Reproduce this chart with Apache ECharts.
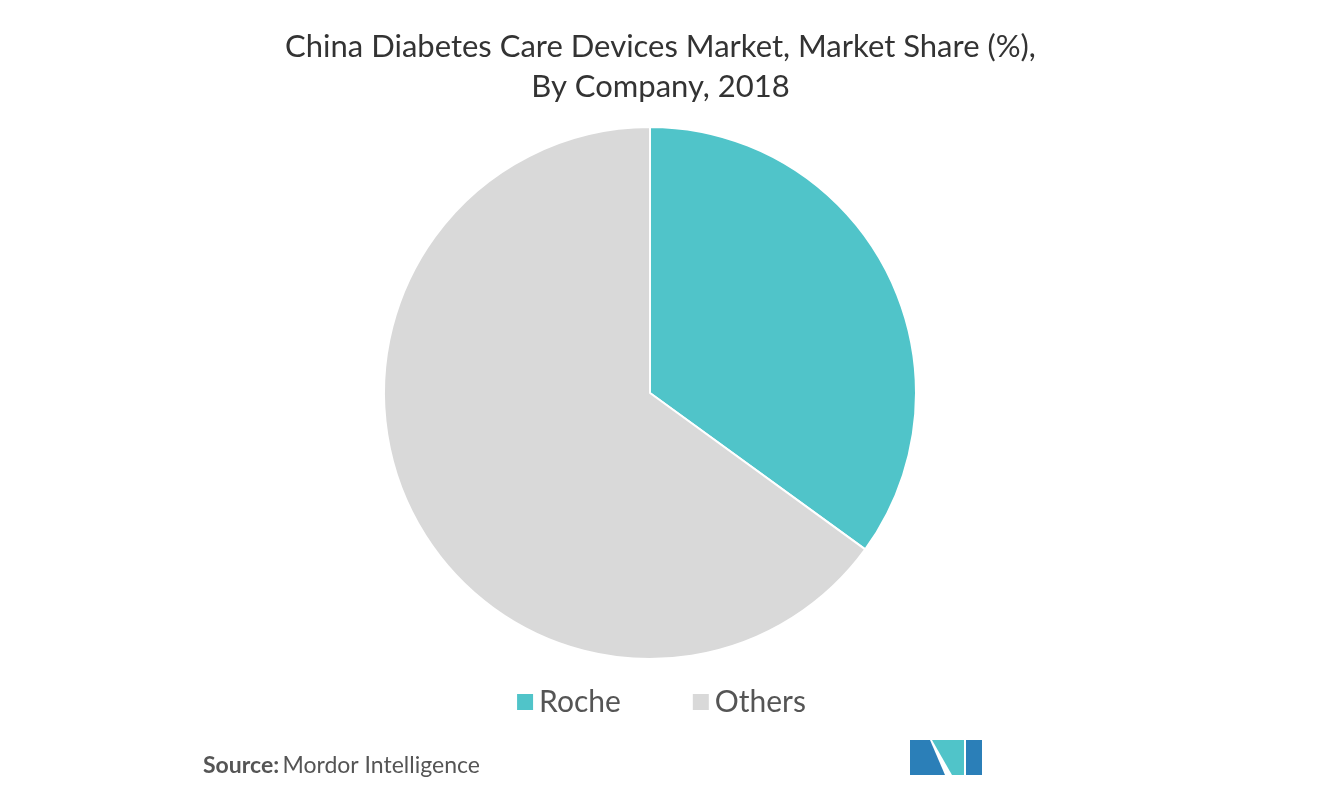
<!DOCTYPE html>
<html><head><meta charset="utf-8">
<script src="https://cdn.jsdelivr.net/npm/echarts@6/dist/echarts.min.js"></script>
<style>html,body{margin:0;padding:0;background:#fff}#c{width:1321px;height:802px}</style>
</head><body><div id="c"></div>
<script>
const categories = ["Roche", "Others"];
const shares = [35, 65];
const colors = ["#50C4C9", "#D9D9D9"];
const chart = echarts.init(document.getElementById('c'));
chart.setOption({
  animation: false,
  title: {
    text: "China Diabetes Care Devices Market, Market Share (%),\nBy Company, 2018",
    left: 'center', top: 22,
    textStyle: {fontFamily: 'Lato', fontWeight: 'normal', fontSize: 31, color: '#333', lineHeight: 40}
  },
  legend: {
    data: categories, bottom: 80, left: 'center', itemWidth: 18, itemHeight: 18, itemGap: 70,
    icon: 'rect',
    textStyle: {fontFamily: 'Lato', fontSize: 30, color: '#555'}
  },
  graphic: [
    {type: 'text', left: 203, top: 754, style: {rich: {b: {fontWeight: 'bold', fontFamily: 'Lato', fontSize: 23, fill: '#555'}, n: {fontFamily: 'Lato', fontSize: 23, fill: '#555'}}, text: '{b|Source:} {n|Mordor Intelligence}'}},
    {type: 'polygon', shape: {points: [[910,775],[910,740],[930,740],[945,775]]}, style: {fill: '#2B7FB8'}},
    {type: 'polygon', shape: {points: [[932,740],[952,775],[964,775],[964,740]]}, style: {fill: '#50C4C9'}},
    {type: 'polygon', shape: {points: [[966,775],[966,740],[982,740],[982,775]]}, style: {fill: '#2B7FB8'}}
  ],
  series: [{
    type: 'pie', center: [650, 393], radius: 266, startAngle: 90, clockwise: true,
    label: {show: false}, labelLine: {show: false},
    itemStyle: {borderColor: '#fff', borderWidth: 2},
    data: categories.map((n, i) => ({name: n, value: shares[i], itemStyle: {color: colors[i]}}))
  }]
});
</script></body></html>
